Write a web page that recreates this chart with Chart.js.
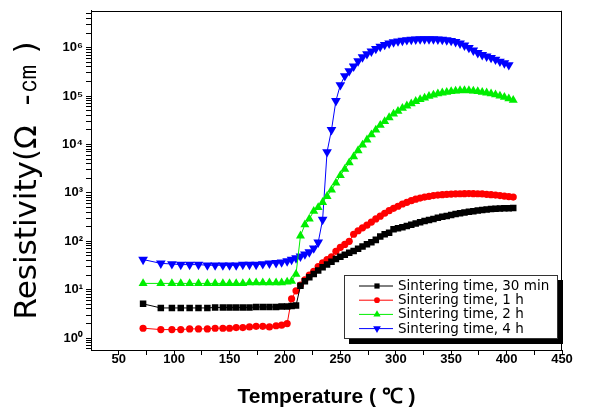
<!DOCTYPE html>
<html><head><meta charset="utf-8">
<script src="https://cdn.jsdelivr.net/npm/chart.js@4/dist/chart.umd.min.js"></script>
<style>html,body{margin:0;padding:0;background:#fff;}</style>
</head><body>
<canvas id="c" width="594" height="414"></canvas>
<script>
// ---- data ----
const temperatures = [72, 88, 98, 106, 114, 122, 130, 137, 144, 150, 156, 162, 168, 174, 180, 186, 192, 197, 202, 206,
  210, 214, 218, 222, 226, 230, 234, 238, 242, 246, 250, 254, 258, 262, 266, 270, 274, 278, 282, 286,
  290, 294, 298, 302, 306, 310, 314, 318, 322, 326, 330, 334, 338, 342, 346, 350, 354, 358, 362, 366,
  370, 374, 378, 382, 386, 390, 394, 398, 402, 406];

const resist30min = [5.1, 4.2, 4.2, 4.2, 4.2, 4.2, 4.2, 4.3, 4.3, 4.3, 4.3, 4.3, 4.3, 4.4, 4.4, 4.4, 4.4, 4.5, 4.5, 4.6,
  4.7, 12, 15, 18, 21, 25, 29, 33, 38, 43, 48, 53, 58, 63, 70, 78, 87, 96, 107, 125,
  140, 150, 178, 185, 196, 208, 220, 232, 248, 262, 276, 290, 305, 320, 335, 350, 365, 380, 395, 410,
  420, 432, 445, 455, 463, 470, 476, 480, 484, 487];

const resist1h = [1.6, 1.5, 1.5, 1.5, 1.55, 1.55, 1.55, 1.6, 1.6, 1.6, 1.65, 1.65, 1.7, 1.75, 1.75, 1.7, 1.8, 1.85, 2.0, 6.5,
  9.5, 12.5, 16, 20, 24, 30, 36, 42, 48, 62, 75, 86, 100, 140, 165, 190, 215, 250, 290, 330,
  380, 430, 480, 530, 590, 640, 690, 740, 780, 820, 850, 880, 900, 920, 935, 945, 955, 960, 965, 970,
  965, 960, 950, 935, 920, 900, 880, 860, 840, 820];

const resist2h = [13.5, 13.5, 13.5, 13.5, 13.5, 13.5, 13.5, 13.5, 13.5, 13.5, 13.5, 13.5, 14, 14, 14, 14, 14, 14, 14.5, 15,
  21, 130, 220, 290, 420, 500, 640, 850, 1150, 1600, 2300, 3100, 4200, 5600, 7500, 9800, 12500, 16000, 20000, 25000,
  30000, 36000, 43000, 49000, 56000, 63000, 70000, 78000, 85000, 92000, 100000, 106000, 112000, 117000, 121000, 125000, 128000, 130000, 131000, 130000,
  128000, 125000, 121000, 117000, 112000, 107000, 101000, 95000, 88000, 82000];

const resist4h = [42, 35, 34, 33, 33, 33, 32, 32, 32, 32, 32, 33, 33, 33, 34, 35, 36, 37, 39, 42,
  45, 49, 54, 60, 72, 95, 280, 7000, 20000, 80000, 170000, 260000, 330000, 410000, 530000, 640000, 740000, 840000, 950000, 1050000,
  1150000, 1230000, 1300000, 1360000, 1400000, 1440000, 1470000, 1490000, 1500000, 1500000, 1500000, 1500000, 1490000, 1470000, 1430000, 1390000, 1320000, 1230000, 1120000, 1000000,
  880000, 780000, 710000, 660000, 620000, 570000, 520000, 480000, 440000, null];

const seriesLabels = ['Sintering time, 30 min', 'Sintering time, 1 h', 'Sintering time, 2 h', 'Sintering time, 4 h'];
const xTickLabels = [50, 100, 150, 200, 250, 300, 350, 400, 450];
const yTickLabels = ['10⁰', '10¹', '10²', '10³', '10⁴', '10⁵', '10⁶'];
const xTitle = 'Temperature ( ℃ )';
const yTitle = 'Resistivity(Ω  -㎝ )';

// ---- chart ----
function pts(vals) { return temperatures.map((t, i) => ({x: t, y: vals[i]})); }
const styles = [
  {color: '#000000', pointStyle: 'rect', radius: 4.6, rot: 0},
  {color: '#ff0000', pointStyle: 'circle', radius: 3.6, rot: 0},
  {color: '#00ee00', pointStyle: 'triangle', radius: 5.2, rot: 0},
  {color: '#0000ff', pointStyle: 'triangle', radius: 5.6, rot: 180}
];
const allVals = [resist30min, resist1h, resist2h, resist4h];
const datasets = allVals.map((v, i) => ({
  label: seriesLabels[i],
  data: pts(v),
  borderColor: styles[i].color,
  backgroundColor: styles[i].color,
  borderWidth: 1,
  pointStyle: styles[i].pointStyle,
  pointRadius: styles[i].radius,
  pointRotation: styles[i].rot,
  pointBorderWidth: 0,
  pointBackgroundColor: styles[i].color,
  tension: 0,
  spanGaps: false
}));

const framePlugin = {
  id: 'frameLegend',
  afterDraw(chart) {
    const {ctx, chartArea: a} = chart;
    ctx.save();
    ctx.strokeStyle = '#000';
    ctx.lineWidth = 1;
    ctx.beginPath();
    ctx.moveTo(a.left, Math.round(a.top) + 0.5); ctx.lineTo(a.right, Math.round(a.top) + 0.5);
    ctx.moveTo(Math.round(a.right) - 0.5, a.top); ctx.lineTo(Math.round(a.right) - 0.5, a.bottom);
    ctx.stroke();
    // legend box
    const bx = Math.round(a.left + 253), by = Math.round(a.bottom - 75), bw = 214, bh = 64;
    ctx.fillStyle = '#000';
    ctx.fillRect(bx + 5, by + 5, bw, bh);
    ctx.fillStyle = '#fff';
    ctx.fillRect(bx, by, bw, bh);
    ctx.strokeStyle = '#333';
    ctx.strokeRect(bx + 0.5, by + 0.5, bw - 1, bh - 1);
    ctx.font = '13.5px "DejaVu Sans", sans-serif';
    ctx.textBaseline = 'middle';
    chart.data.datasets.forEach((ds, i) => {
      const y = by + 10.5 + i * 14.2;
      ctx.strokeStyle = ds.borderColor;
      ctx.lineWidth = 1;
      ctx.beginPath();
      ctx.moveTo(bx + 15, y + 0.5); ctx.lineTo(bx + 49, y + 0.5);
      ctx.stroke();
      ctx.fillStyle = ds.backgroundColor;
      Chart.helpers.drawPoint(ctx, {pointStyle: ds.pointStyle, radius: ds.pointRadius * 0.8, rotation: ds.pointRotation, borderWidth: 0}, bx + 33, y + 0.5);
      ctx.fillStyle = '#000';
      ctx.fillText(ds.label, bx + 54, y + 1);
    });
    ctx.restore();
  }
};

function isPow10(v) { const l = Math.log10(v); return Math.abs(l - Math.round(l)) < 1e-9; }

new Chart(document.getElementById('c'), {
  type: 'line',
  data: {datasets},
  options: {
    responsive: false,
    animation: false,
    layout: {padding: {left: 0, right: 32, top: 8, bottom: 0}},
    plugins: {legend: {display: false}, tooltip: {enabled: false}},
    scales: {
      x: {
        type: 'linear', min: 25, max: 450,
        afterFit(s) { s.height = 64; },
        afterBuildTicks(s) {
          const t = [];
          for (let v = 50; v <= 450; v += 25) t.push({value: v});
          s.ticks = t;
        },
        border: {color: '#000', width: 1},
        grid: {drawOnChartArea: false, drawTicks: true, tickLength: 5, tickColor: '#000'},
        ticks: {
          autoSkip: false, maxRotation: 0, padding: -3, color: '#000',
          font: {family: '"Liberation Sans", Arial, sans-serif', size: 13, weight: 'bold'},
          callback: (v) => xTickLabels.includes(v) ? String(v) : ''
        },
        title: {display: true, text: xTitle, color: '#000',
          font: {family: '"Liberation Sans", Arial, sans-serif', size: 21, weight: 'bold'},
          padding: {top: 0, bottom: 4}}
      },
      y: {
        type: 'logarithmic', min: 0.568, max: 5.78e6,
        afterFit(s) { s.width = 91; },
        afterBuildTicks(s) {
          const t = [];
          for (let e = -1; e <= 6; e++) for (let k = 1; k <= 9; k++) {
            const v = k * Math.pow(10, e);
            if (v >= s.min && v <= s.max) t.push({value: v, major: k === 1});
          }
          s.ticks = t;
        },
        border: {color: '#000', width: 1},
        grid: {drawOnChartArea: false, drawTicks: true, tickLength: 5, tickColor: '#000'},
        ticks: {
          autoSkip: false, padding: 3, color: '#000',
          font: {family: '"Liberation Sans", Arial, sans-serif', size: 13, weight: 'bold'},
          callback: (v) => isPow10(v) ? yTickLabels[Math.round(Math.log10(v))] || '' : ''
        },
        title: {display: true, text: yTitle, color: '#000',
          font: {family: '"DejaVu Sans", sans-serif', size: 31, weight: 'normal'},
          padding: {top: 9, bottom: 0}}
      }
    }
  },
  plugins: [framePlugin]
});
</script>
</body></html>
